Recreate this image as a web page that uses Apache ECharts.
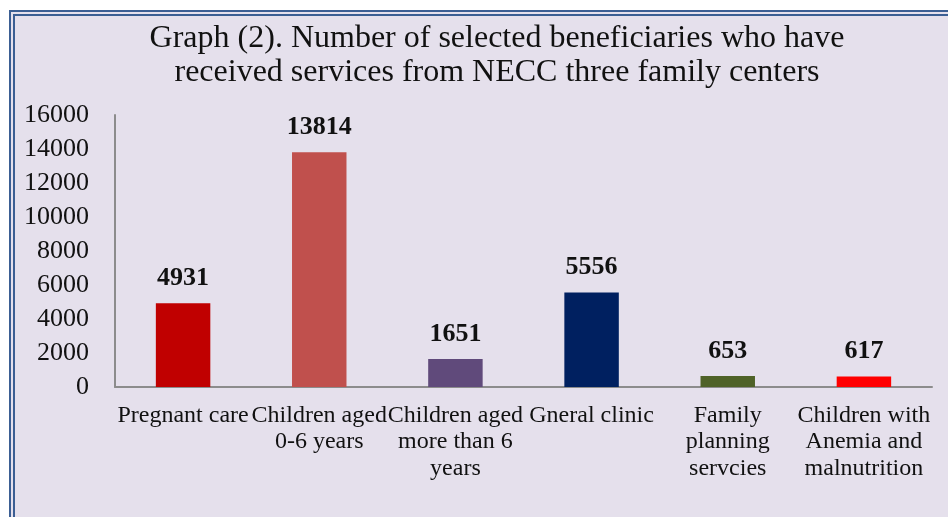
<!DOCTYPE html>
<html>
<head>
<meta charset="utf-8">
<script src="https://cdn.jsdelivr.net/npm/echarts@6/dist/echarts.min.js"></script>
<style>
html,body{margin:0;padding:0;width:948px;height:517px;overflow:hidden;background:#ffffff;}
#frame{position:absolute;left:9px;top:10px;width:939px;height:507px;border-left:6px double #3B5E93;border-top:6px double #3B5E93;background:#E5E0EC;box-sizing:border-box;}
#chart{position:absolute;left:0;top:0;width:948px;height:517px;}
</style>
</head>
<body>
<div id="frame"></div>
<div id="chart"></div>
<script>
const titleLines = ["Graph (2). Number of selected beneficiaries who have", "received services from NECC three family centers"];
const categories = ["Pregnant care", "Children aged\n0-6 years", "Children aged\nmore than 6\nyears", "Gneral clinic", "Family\nplanning\nservcies", "Children with\nAnemia and\nmalnutrition"];
const values = [4931, 13814, 1651, 5556, 653, 617];
const barColors = ["#C00000", "#C0504D", "#604A7B", "#002060", "#4F6228", "#FF0000"];
const yTicks = [0, 2000, 4000, 6000, 8000, 10000, 12000, 14000, 16000];

const serif = "'Liberation Serif', 'Times New Roman', serif";
const chart = echarts.init(document.getElementById('chart'), null, {renderer: 'canvas'});
chart.setOption({
  backgroundColor: 'transparent',
  animation: false,
  title: {
    text: titleLines.join('\n'),
    left: 492,
    top: 17,
    textAlign: 'center',
    textStyle: {fontFamily: serif, fontSize: 32, fontWeight: 'normal', color: '#111', lineHeight: 34}
  },
  grid: {left: 115, right: 16, top: 115, bottom: 130, containLabel: false},
  xAxis: {
    type: 'category',
    data: categories,
    axisLine: {lineStyle: {color: '#8C8C8C', width: 2}},
    axisTick: {show: false},
    axisLabel: {interval: 0, fontFamily: serif, fontSize: 24, color: '#111', lineHeight: 26.7, margin: 15}
  },
  yAxis: {
    type: 'value',
    min: yTicks[0],
    max: yTicks[yTicks.length - 1],
    interval: yTicks[1] - yTicks[0],
    splitLine: {show: false},
    axisLine: {show: true, lineStyle: {color: '#8C8C8C', width: 2}},
    axisTick: {show: false},
    axisLabel: {fontFamily: serif, fontSize: 26, color: '#111', margin: 26, formatter: v => String(v)}
  },
  series: [{
    type: 'bar',
    data: values.map((v, i) => ({value: v, itemStyle: {color: barColors[i]}})),
    barWidth: '40%',
    label: {show: true, position: 'top', distance: 12, fontFamily: serif, fontSize: 26, fontWeight: 'bold', color: '#111'}
  }]
});
</script>
</body>
</html>
